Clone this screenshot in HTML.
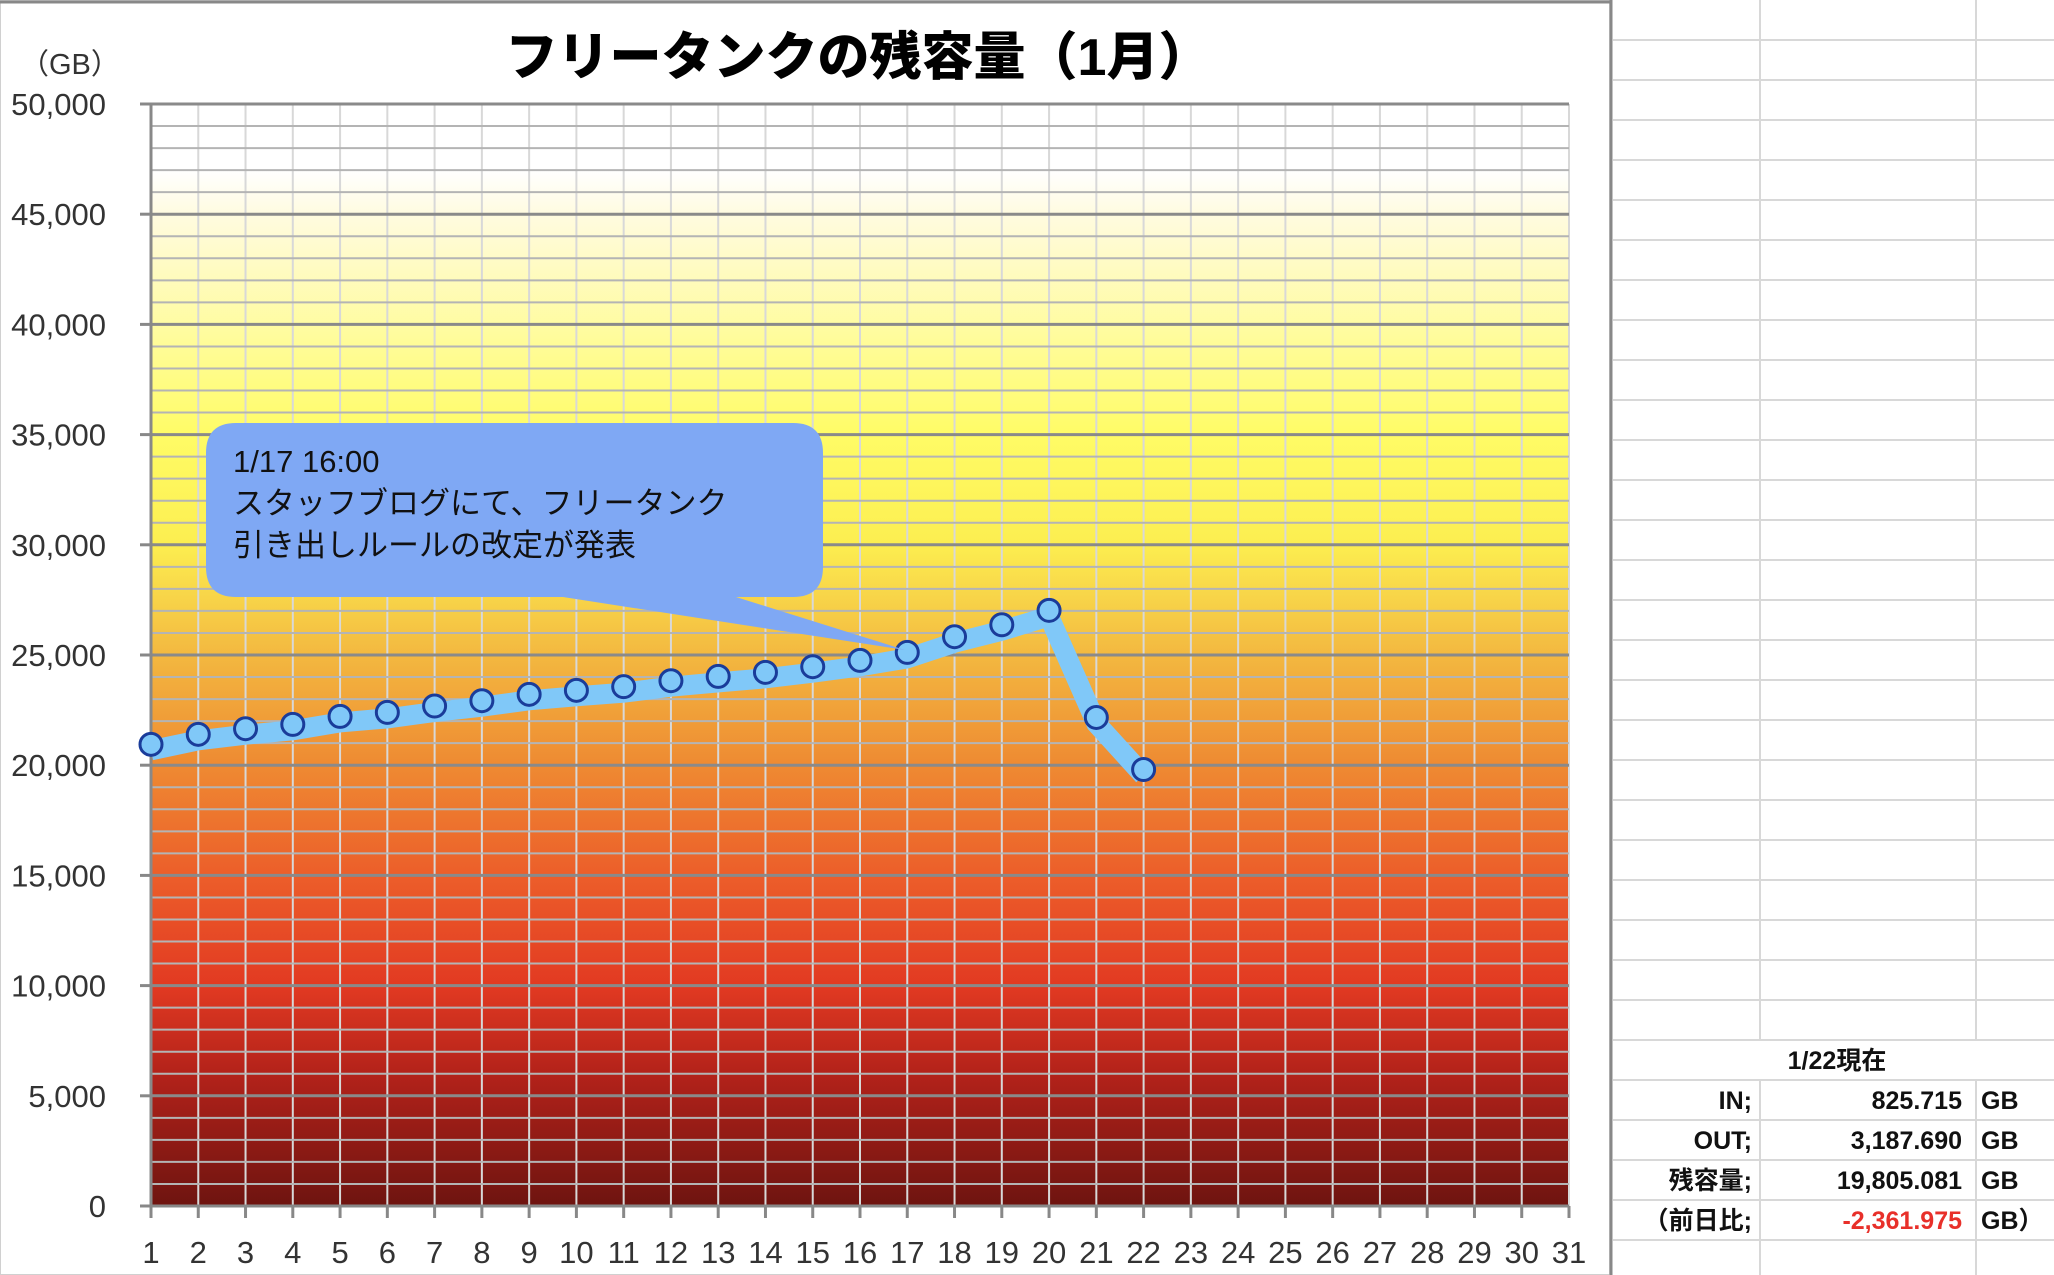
<!DOCTYPE html>
<html><head><meta charset="utf-8"><style>
body{margin:0;background:#fff;}
svg{display:block;font-family:"Liberation Sans","Noto Sans CJK JP",sans-serif;}
</style></head><body>
<svg id="chart" width="2054" height="1275" viewBox="0 0 2054 1275" xmlns="http://www.w3.org/2000/svg">
<defs>
<linearGradient id="bg" x1="0" y1="0" x2="0" y2="1">
<stop offset="0" stop-color="#ffffff"/>
<stop offset="0.06" stop-color="#ffffff"/>
<stop offset="0.1" stop-color="#fffbe0"/>
<stop offset="0.3" stop-color="#fffc66"/>
<stop offset="0.4" stop-color="#fcee50"/>
<stop offset="0.5" stop-color="#f3b840"/>
<stop offset="0.6" stop-color="#ee8a32"/>
<stop offset="0.7" stop-color="#ec5e2a"/>
<stop offset="0.8" stop-color="#e23a22"/>
<stop offset="0.88" stop-color="#b3221a"/>
<stop offset="1" stop-color="#6e1410"/>
</linearGradient>
</defs>
<rect x="0" y="0" width="1610" height="1275" fill="#fff" stroke="#d0d0d0" stroke-width="2"/>
<line x1="0" y1="2" x2="1611" y2="2" stroke="#888" stroke-width="3"/>
<line x1="1611" y1="0" x2="1611" y2="1275" stroke="#888" stroke-width="3"/>
<text x="858" y="75" text-anchor="middle" font-size="52" font-weight="900" fill="#000">フリータンクの残容量（1月）</text>
<text x="20" y="74" font-size="29" fill="#333">（GB）</text>
<rect x="151" y="104" width="1418" height="1102" fill="url(#bg)"/>
<g id="grid"></g><g id="axes"></g><g id="series"></g>
<g>
<path d="M236 423 H793 Q823 423 823 453 V567 Q823 597 793 597 H736 L905 650 L563 597 H236 Q206 597 206 567 V453 Q206 423 236 423 Z" fill="#7fa8f4"/>
<text x="233" y="472" font-size="31" fill="#111"><tspan x="233">1/17 16:00</tspan><tspan x="233" dy="42">スタッフブログにて、フリータンク</tspan><tspan x="233" dy="42">引き出しルールの改定が発表</tspan></text>
</g>
<g id="sheet"></g>
</svg>
<script>
const days = Array.from({length:31},(_,i)=>i+1);
const values = [20947,21400,21656,21852,22215,22397,22685,22926,23215,23397,23563,23834,24031,24213,24469,24757,25120,25830,26373,27026,22167,19805];
const yTicks = [0,5000,10000,15000,20000,25000,30000,35000,40000,45000,50000];
const yLabels = ["0","5,000","10,000","15,000","20,000","25,000","30,000","35,000","40,000","45,000","50,000"];
const NS="http://www.w3.org/2000/svg";
const L=151,R=1569,T=104,B=1206,YMAX=50000;
const xs=d=>L+(d-1)*(R-L)/30;
const ys=v=>B-v/YMAX*(B-T);
function mk(tag,attrs,parent){const e=document.createElementNS(NS,tag);for(const k in attrs)e.setAttribute(k,attrs[k]);parent.appendChild(e);return e;}
const grid=document.getElementById('grid'),axes=document.getElementById('axes'),series=document.getElementById('series');
for(let d=2;d<=31;d++){const g=mk('line',{x1:xs(d),x2:xs(d),y1:T,y2:B,stroke:'#d8d8d8','stroke-width':2},grid);

}
for(let v=1000;v<=YMAX;v+=1000){const major=v%5000===0;const g=mk('line',{x1:L,x2:R,y1:ys(v),y2:ys(v),stroke:major?'#8a8a8a':'#b4b4b4','stroke-width':major?3:2},grid);

}
mk('line',{x1:L,x2:L,y1:T,y2:B,stroke:'#888','stroke-width':3},axes);
mk('line',{x1:L,x2:R,y1:B,y2:B,stroke:'#888','stroke-width':3},axes);
yTicks.forEach((v,i)=>{mk('line',{x1:140,x2:L,y1:ys(v),y2:ys(v),stroke:'#888','stroke-width':3},axes);
const t=mk('text',{x:106,y:ys(v)+11,'text-anchor':'end','font-size':31,fill:'#333'},axes);t.textContent=yLabels[i];

});
days.forEach(d=>{mk('line',{x1:xs(d),x2:xs(d),y1:B,y2:B+12,stroke:'#888','stroke-width':3},axes);
const t=mk('text',{x:xs(d),y:1263,'text-anchor':'middle','font-size':31,fill:'#333'},axes);t.textContent=d;

});
const pts=values.map((v,i)=>xs(i+1)+','+ys(v)).join(' ');
const pl=mk('polyline',{points:pts,fill:'none',stroke:'#80c8f8','stroke-width':20,'stroke-linejoin':'miter',transform:'translate(0,6)'},series);


values.forEach((v,i)=>{const c=mk('ellipse',{cx:xs(i+1),cy:ys(v),rx:11,ry:11,fill:'#80c8f8',stroke:'#1a3c9a','stroke-width':3},series);

});
// spreadsheet
const sh=document.getElementById('sheet');
for(let y=40;y<1275;y+=40){mk('line',{x1:1613,x2:2054,y1:y,y2:y,stroke:'#d8d8d8','stroke-width':2},sh);}
[1760,1976].forEach(x=>{mk('line',{x1:x,x2:x,y1:0,y2:1040,stroke:'#d8d8d8','stroke-width':2},sh);mk('line',{x1:x,x2:x,y1:1080,y2:1275,stroke:'#d8d8d8','stroke-width':2},sh);});
const hd=mk('text',{x:1837,y:1069,'text-anchor':'middle','font-size':25,'font-weight':'bold',fill:'#111'},sh);hd.textContent='1/22現在';


const rows=[['IN;','825.715','GB','#111'],['OUT;','3,187.690','GB','#111'],['残容量;','19,805.081','GB','#111'],['（前日比;','-2,361.975','GB）','#e8302a']];
rows.forEach((r,i)=>{const y=1109+i*40;
const a=mk('text',{x:1752,y:y,'text-anchor':'end','font-size':25,'font-weight':'bold',fill:'#111'},sh);a.textContent=r[0];


const b=mk('text',{x:1962,y:y,'text-anchor':'end','font-size':25,'font-weight':'bold',fill:r[3]},sh);b.textContent=r[1];


const c=mk('text',{x:1981,y:y,'font-size':25,'font-weight':'bold',fill:'#111'},sh);c.textContent=r[2];

});
</script>
</body></html>
